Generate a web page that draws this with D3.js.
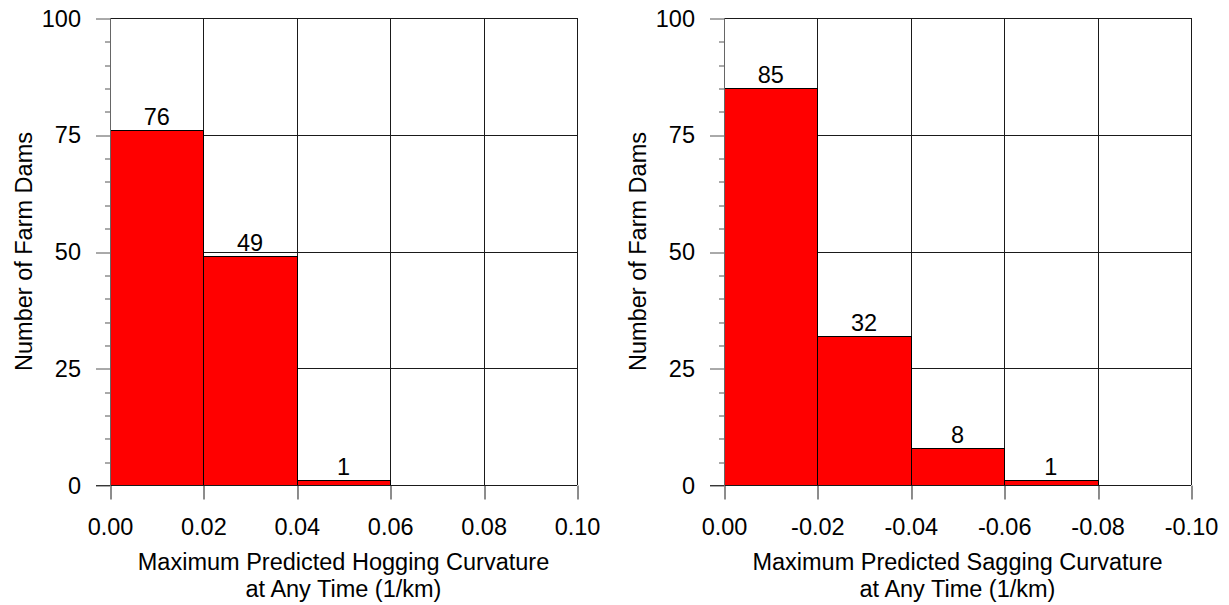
<!DOCTYPE html>
<html>
<head>
<meta charset="utf-8">
<script src="https://cdn.jsdelivr.net/npm/d3@7"></script>
<style>
  html, body { margin: 0; padding: 0; background: #fff; }
  svg { display: block; }
  text { font-family: Arial, "Liberation Sans", sans-serif; fill: #000; }
</style>
</head>
<body>
<svg id="chart" width="1229" height="605"></svg>
<script>
// Histogram bins: lower edge, upper edge, count
const hogEdges = [0, 0.02, 0.04, 0.06];
const hogCounts = [76, 49, 1];
const sagEdges = [0, -0.02, -0.04, -0.06, -0.08];
const sagCounts = [85, 32, 8, 1];

const hogTicks = [0, 0.02, 0.04, 0.06, 0.08, 0.10];
const sagTicks = [0, -0.02, -0.04, -0.06, -0.08, -0.10];
const yTicks = [0, 25, 50, 75, 100];
const yMinor = d3.range(0, 101, 5).filter(v => v % 25 !== 0);

const yTitle = "Number of Farm Dams";
const hogTitle = ["Maximum Predicted Hogging Curvature", "at Any Time (1/km)"];
const sagTitle = ["Maximum Predicted Sagging Curvature", "at Any Time (1/km)"];

const FONT = 23.5;
const svg = d3.select("#chart");

function panel(opts) {
  const { left, right, top, bottom, domain, ticks, edges, counts, title } = opts;
  const x = d3.scaleLinear().domain(domain).range([left, right]);
  const y = d3.scaleLinear().domain([0, 100]).range([bottom, top]);
  const g = svg.append("g");

  // grid lines
  g.append("g").selectAll("line").data(yTicks).join("line")
    .attr("x1", left).attr("x2", right)
    .attr("y1", d => Math.round(y(d)) + 0.5).attr("y2", d => Math.round(y(d)) + 0.5)
    .attr("stroke", "#1a1a1a").attr("stroke-width", 1);
  g.append("g").selectAll("line").data(ticks).join("line")
    .attr("x1", d => Math.round(x(d)) + 0.5).attr("x2", d => Math.round(x(d)) + 0.5)
    .attr("y1", top).attr("y2", bottom)
    .attr("stroke", "#1a1a1a").attr("stroke-width", 1);

  // bars
  const bins = counts.map((c, i) => ({ x0: edges[i], x1: edges[i + 1], n: c }));
  g.append("g").selectAll("rect").data(bins).join("rect")
    .attr("x", d => Math.round(x(d.x0)) + 0.5)
    .attr("width", d => Math.round(x(d.x1)) - Math.round(x(d.x0)))
    .attr("y", d => Math.round(y(d.n)) + 0.5)
    .attr("height", d => Math.round(y(0)) - Math.round(y(d.n)))
    .attr("fill", "#ff0000").attr("stroke", "#000").attr("stroke-width", 1);

  // bar value labels
  g.append("g").selectAll("text").data(bins).join("text")
    .attr("x", d => x((d.x0 + d.x1) / 2))
    .attr("y", d => y(d.n) - 5)
    .attr("text-anchor", "middle")
    .style("font-size", FONT + "px")
    .text(d => d.n);

  // x axis
  const xAxis = d3.axisBottom(x).tickValues(ticks).tickSize(14).tickPadding(19)
    .tickFormat(d => Math.abs(d) < 1e-12 ? "0.00" : d.toFixed(2));
  const xa = g.append("g").attr("transform", `translate(0.5,${Math.round(y(0)) + 0.5})`).call(xAxis);
  xa.select(".domain").remove();
  xa.selectAll(".tick line").attr("stroke", "#1a1a1a").attr("transform", "translate(-0.5,0)")
    .attr("x1", d => Math.round(x(d)) - x(d) + 0.5).attr("x2", d => Math.round(x(d)) - x(d) + 0.5);
  xa.selectAll(".tick text").style("font-size", FONT + "px")
    .attr("font-family", null).attr("transform", "translate(-0.5,0)");
  g.append("line")
    .attr("x1", left - 14).attr("x2", right)
    .attr("y1", Math.round(y(0)) + 0.5).attr("y2", Math.round(y(0)) + 0.5)
    .attr("stroke", "#1a1a1a");

  // y axis
  const yAxis = d3.axisLeft(y).tickValues(yTicks).tickSize(14).tickPadding(15);
  const ya = g.append("g").attr("transform", `translate(${left},0.5)`).call(yAxis);
  ya.select(".domain").remove();
  ya.selectAll(".tick line").attr("stroke", "#555")
    .attr("y1", d => Math.round(y(d)) - y(d)).attr("y2", d => Math.round(y(d)) - y(d));
  ya.selectAll(".tick text").style("font-size", FONT + "px").attr("font-family", null);

  const yAxisMinor = d3.axisLeft(y).tickValues(yMinor).tickSize(5).tickFormat("");
  const ym = g.append("g").attr("transform", `translate(${left},0.5)`).call(yAxisMinor);
  ym.select(".domain").remove();
  ym.selectAll(".tick line").attr("stroke", "#555")
    .attr("y1", d => Math.round(y(d)) - y(d)).attr("y2", d => Math.round(y(d)) - y(d));

  g.append("line")
    .attr("x1", left + 0.5).attr("x2", left + 0.5)
    .attr("y1", top).attr("y2", Math.round(y(0)) + 1)
    .attr("stroke", "#666");

  // axis titles
  g.append("text")
    .attr("transform", `translate(${left - 78},${(top + bottom) / 2}) rotate(-90)`)
    .attr("text-anchor", "middle")
    .style("font-size", FONT + "px")
    .text(yTitle);

  const cx = (left + right) / 2;
  g.append("text").attr("x", cx).attr("y", 570).attr("text-anchor", "middle")
    .style("font-size", FONT + "px").text(title[0]);
  g.append("text").attr("x", cx).attr("y", 597).attr("text-anchor", "middle")
    .style("font-size", FONT + "px").text(title[1]);
}

panel({ left: 110, right: 577, top: 18, bottom: 485,
        domain: [0, 0.10], ticks: hogTicks, edges: hogEdges, counts: hogCounts, title: hogTitle });
panel({ left: 724, right: 1191, top: 18, bottom: 485,
        domain: [0, -0.10], ticks: sagTicks, edges: sagEdges, counts: sagCounts, title: sagTitle });
</script>
</body>
</html>
